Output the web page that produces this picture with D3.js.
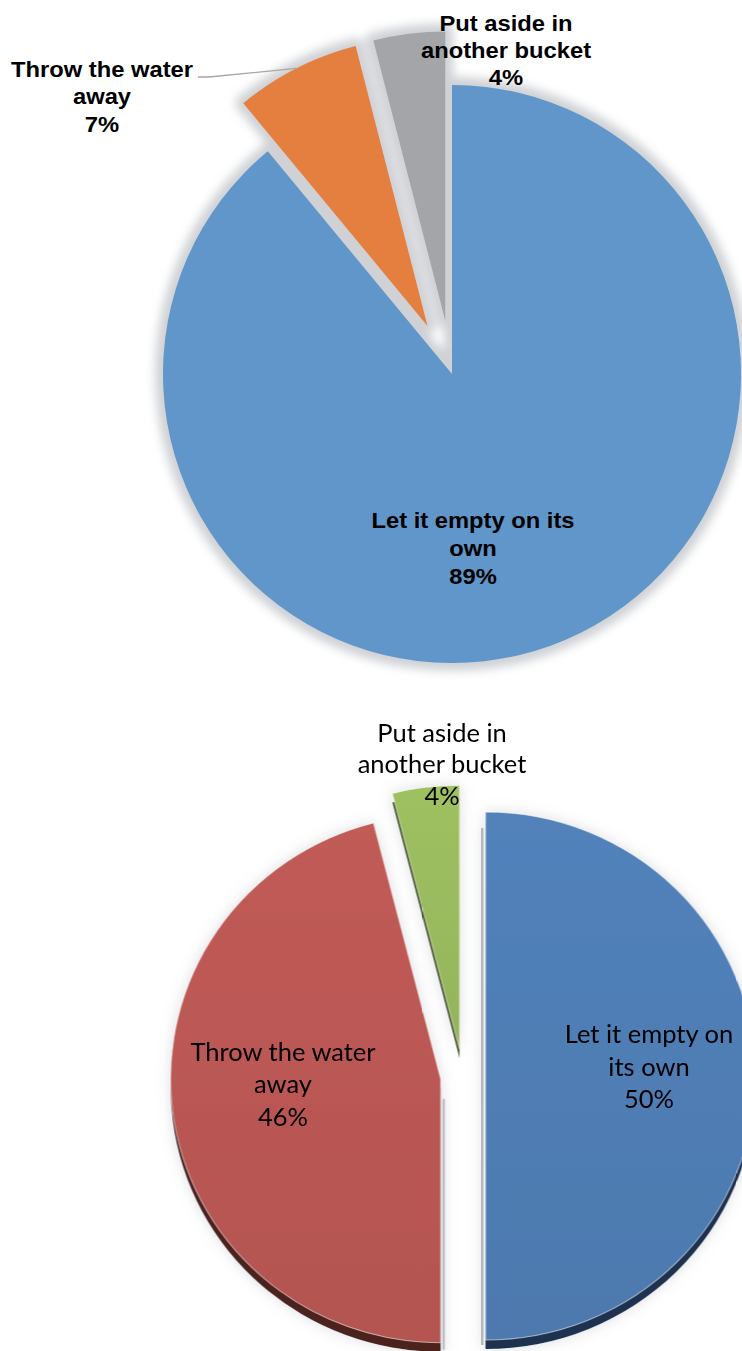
<!DOCTYPE html>
<html>
<head>
<meta charset="utf-8">
<script src="https://cdn.jsdelivr.net/npm/d3@7"></script>
<style>
  html, body { margin: 0; padding: 0; background: #fff; }
  svg { display: block; }
</style>
</head>
<body>
<script>
// What respondents do with the water left in the bucket
const categories = ["Let it empty on its own", "Throw the water away", "Put aside in another bucket"];

// First survey (upper pie)
const topValues = [89, 7, 4];
const topLabelLines = [["Let it empty on its", "own"], ["Throw the water", "away"], ["Put aside in", "another bucket"]];

// Second survey (lower pie)
const bottomValues = [50, 46, 4];
const bottomLabelLines = [["Let it empty on", "its own"], ["Throw the water", "away"], ["Put aside in", "another bucket"]];

const topColors = ["#6096c9", "#e47f40", "#a4a5a9"];
const bottomColors = ["#4f7db3", "#b95753", "#98b95d"];
const bottomRimColors = ["#1f3150", "#4b201e", "#4a5a2a"];

const W = 742, H = 1351;
const pct = d3.format(".0%");

const svg = d3.select("body").append("svg")
  .attr("width", W).attr("height", H)
  .attr("viewBox", `0 0 ${W} ${H}`);

const defs = svg.append("defs");
defs.append("filter").attr("id", "softShadow")
  .attr("x", "-20%").attr("y", "-20%").attr("width", "140%").attr("height", "140%")
  .append("feGaussianBlur").attr("stdDeviation", 5);

const lowShadow = defs.append("filter").attr("id", "lowShadow")
  .attr("x", "-20%").attr("y", "-20%").attr("width", "140%").attr("height", "140%");
lowShadow.append("feDropShadow")
  .attr("dx", 0).attr("dy", 0).attr("stdDeviation", 7)
  .attr("flood-color", "#9aa0a8").attr("flood-opacity", 0.35);

// subtle top-to-bottom shading on the lower pie's faces
bottomColors.forEach((c, i) => {
  const g = defs.append("linearGradient").attr("id", "face" + i)
    .attr("x1", 0).attr("y1", 0).attr("x2", 0).attr("y2", 1);
  g.append("stop").attr("offset", "0%").attr("stop-color", d3.color(c).brighter(0.12));
  g.append("stop").attr("offset", "100%").attr("stop-color", d3.color(c).darker(0.08));
});

const pie = d3.pie().sort(null).value(d => d).startAngle(0).endAngle(2 * Math.PI);
const midAngle = d => (d.startAngle + d.endAngle) / 2;
const shift = (d, e) => [Math.sin(midAngle(d)) * e, -Math.cos(midAngle(d)) * e];

function drawLabel(g, lines, x, baselines, opts) {
  const t = g.append("text")
    .attr("text-anchor", "middle")
    .attr("font-family", opts.family)
    .attr("font-weight", opts.weight)
    .attr("font-size", opts.size)
    .attr("fill", "#000")
    .attr("transform", `translate(${x},0) scale(${opts.sx},1)`);
  lines.forEach((ln, i) => {
    t.append("tspan").attr("x", 0).attr("y", baselines[i]).text(ln);
  });
}

/* ---------- upper pie: flat, two slices pulled out ---------- */
{
  const cx = 452, cy = 374, r = 289;
  const explode = [0, 54, 54];
  const arcs = pie(topValues);
  const arc = d3.arc().innerRadius(0).outerRadius(r);
  const g = svg.append("g").attr("transform", `translate(${cx},${cy})`);

  // grey halo behind the slices
  g.append("g").attr("filter", "url(#softShadow)")
    .selectAll("path").data(arcs).join("path")
    .attr("transform", (d, i) => `translate(${shift(d, explode[i])})`)
    .attr("d", arc)
    .attr("fill", "#cfd1d5")
    .attr("stroke", "#cfd1d5")
    .attr("stroke-width", 16)
    .attr("stroke-linejoin", "round");

  g.append("g").selectAll("path").data(arcs).join("path")
    .attr("transform", (d, i) => `translate(${shift(d, explode[i])})`)
    .attr("d", arc)
    .attr("fill", (d, i) => topColors[i]);

  // leader line for the orange slice label
  const d1 = arcs[1];
  const o = shift(d1, explode[1]);
  const ex = o[0] + Math.sin(midAngle(d1)) * r, ey = o[1] - Math.cos(midAngle(d1)) * r;
  const labelEnd = [198 - cx, 77 - cy];
  g.append("polyline")
    .attr("points", [[ex, ey], [labelEnd[0] + 11, labelEnd[1]], labelEnd].map(p => p.join(",")).join(" "))
    .attr("fill", "none").attr("stroke", "#a6a6a6").attr("stroke-width", 1.3);

  const font = { family: "'Liberation Sans', Arial, sans-serif", weight: "bold", size: 22, sx: 1.08 };
  const place = [
    { x: 473, y: [528.5, 556.5, 584.5] },
    { x: 102, y: [77, 104.5, 132] },
    { x: 506, y: [31.5, 58.5, 85.5] }
  ];
  arcs.forEach((d, i) => {
    drawLabel(svg, [...topLabelLines[i], pct(topValues[i] / d3.sum(topValues))], place[i].x, place[i].y, font);
  });
}

/* ---------- lower pie: 3-D look, all slices pulled apart ---------- */
{
  const cx = 463, cy = 1076, r = 264, sx = 270 / 264, depth = 9;
  const explode = [22, 22, 27];
  const arcs = pie(bottomValues);
  const arc = d3.arc().innerRadius(0).outerRadius(r);
  const g = svg.append("g").attr("transform", `translate(${cx},${cy}) scale(${sx},1)`);
  const outer = g.append("g").attr("filter", "url(#lowShadow)");

  const slice = outer.selectAll("g.slice").data(arcs).join("g")
    .attr("class", "slice")
    .attr("transform", (d, i) => `translate(${shift(d, explode[i])})`);

  // side wall of each slice, seen below its face
  slice.append("path")
    .attr("transform", `translate(0,${depth})`)
    .attr("d", arc)
    .attr("fill", (d, i) => bottomRimColors[i]);

  // light side faces along the cut edges
  slice.append("line")
    .attr("x1", (d, i) => i === 0 ? -3 : 3).attr("x2", (d, i) => i === 0 ? -3 : 3)
    .attr("y1", (d, i) => i === 0 ? -r + 16 : 20).attr("y2", (d, i) => i === 0 ? r + depth - 4 : r + depth - 2)
    .attr("stroke", "#b4b8be").attr("stroke-width", (d, i) => i === 2 ? 0 : 2);

  slice.append("path")
    .attr("d", arc)
    .attr("fill", (d, i) => `url(#face${i})`)
    .attr("stroke", "rgba(255,255,255,0.55)")
    .attr("stroke-width", 1);

  const font = { family: "Lato, 'Open Sans', sans-serif", weight: "normal", size: 25, sx: 1.02 };
  const place = [
    { x: 649, y: [1043.5, 1076, 1108.5] },
    { x: 283, y: [1061, 1093.5, 1126] },
    { x: 442, y: [742, 773.5, 805] }
  ];
  arcs.forEach((d, i) => {
    drawLabel(svg, [...bottomLabelLines[i], pct(bottomValues[i] / d3.sum(bottomValues))], place[i].x, place[i].y, font);
  });
}
</script>
</body>
</html>
